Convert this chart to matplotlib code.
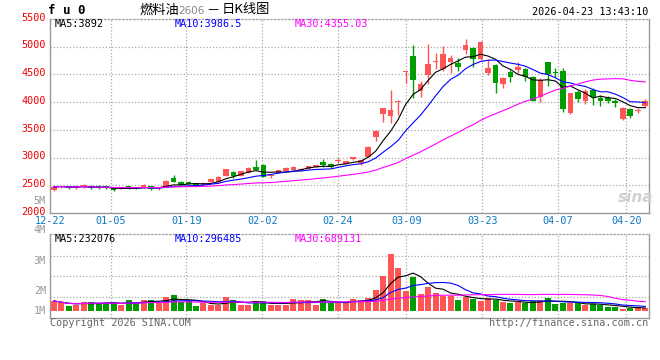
import numpy as np
import pandas as pd
import matplotlib
matplotlib.use("Agg")
import matplotlib.pyplot as plt
from matplotlib.transforms import blended_transform_factory, offset_copy

# fu0 daily K, 12-22 .. 04-23
opens = [2409, 2463, 2487, 2445, 2486, 2493, 2493, 2487, 2469, 2445,
         2487, 2469, 2457, 2487, 2443, 2469, 2625, 2565, 2565, 2535,
         2505, 2559, 2559, 2668, 2746, 2668, 2728, 2836, 2866, 2664,
         2728, 2758, 2776, 2770, 2800, 2836, 2920, 2884, 2935, 2890,
         2968, 2905, 3016, 3365, 3786, 3750, 3995, 4545, 4838, 4207,
         4490, 4725, 4592, 4730, 4712, 4941, 4971, 4772, 4532, 4670,
         4327, 4550, 4580, 4592, 4460, 4099, 4718, 4540, 4562, 3798,
         4189, 4027, 4219, 4069, 4069, 4021, 3690, 3876, 3843, 3930]
closes = [2469, 2487, 2445, 2487, 2491, 2445, 2445, 2445, 2415, 2469,
          2445, 2439, 2505, 2439, 2448, 2577, 2565, 2505, 2523, 2487,
          2547, 2607, 2656, 2794, 2674, 2758, 2818, 2776, 2656, 2672,
          2776, 2806, 2836, 2800, 2848, 2866, 2866, 2824, 2942, 2938,
          3005, 2956, 3196, 3485, 3894, 3858, 4005, 4555, 4393, 4327,
          4687, 4735, 4866, 4790, 4640, 5031, 4772, 5091, 4622, 4351,
          4429, 4460, 4640, 4447, 4027, 4399, 4508, 4525, 3870, 4159,
          4051, 4201, 4099, 4027, 4027, 3979, 3900, 3750, 3850, 4021]
highs = [2475, 2490, 2493, 2493, 2517, 2499, 2499, 2493, 2475, 2475,
         2493, 2475, 2515, 2493, 2469, 2590, 2686, 2571, 2575, 2541,
         2553, 2620, 2662, 2800, 2752, 2764, 2824, 2955, 2885, 2700,
         2782, 2836, 2842, 2806, 2854, 2872, 2974, 2895, 2986, 2945,
         3012, 2965, 3202, 3491, 3900, 4219, 4039, 4567, 5031, 4381,
         5045, 4880, 5009, 4850, 4790, 5133, 5001, 5097, 4772, 4688,
         4460, 4580, 4730, 4610, 4466, 4429, 4730, 4622, 4610, 4170,
         4219, 4231, 4249, 4129, 4111, 4051, 3905, 3888, 3888, 4057]
lows = [2400, 2458, 2440, 2440, 2445, 2440, 2440, 2435, 2405, 2440,
        2430, 2433, 2451, 2415, 2409, 2463, 2555, 2499, 2517, 2481,
        2499, 2553, 2553, 2662, 2640, 2662, 2722, 2770, 2645, 2640,
        2722, 2746, 2770, 2764, 2794, 2830, 2836, 2812, 2896, 2880,
        2960, 2866, 3010, 3305, 3650, 3629, 3768, 4339, 4069, 4087,
        4327, 4592, 4555, 4532, 4568, 4868, 4640, 4760, 4490, 4159,
        4249, 4369, 4532, 4387, 4020, 4009, 4291, 4460, 3828, 3790,
        4009, 3966, 3948, 3930, 3979, 3918, 3685, 3708, 3798, 3906]
# volume, millions
volumes = [0.58, 0.44, 0.31, 0.35, 0.50, 0.52, 0.46, 0.46, 0.44, 0.35,
           0.64, 0.46, 0.64, 0.64, 0.44, 0.81, 0.92, 0.50, 0.58, 0.29,
           0.44, 0.35, 0.35, 0.81, 0.64, 0.35, 0.35, 0.58, 0.58, 0.35,
           0.35, 0.35, 0.69, 0.64, 0.64, 0.35, 0.69, 0.44, 0.44, 0.50,
           0.69, 0.64, 0.77, 1.21, 2.02, 3.29, 2.50, 1.16, 1.98, 0.98,
           1.41, 1.06, 0.87, 0.87, 0.64, 0.83, 0.67, 0.58, 0.73, 0.64,
           0.50, 0.44, 0.50, 0.44, 0.58, 0.64, 0.77, 0.39, 0.44, 0.44,
           0.44, 0.35, 0.39, 0.35, 0.25, 0.25, 0.12, 0.15, 0.21, 0.15]

date_labels = ["12-22", "01-05", "01-19", "02-02", "02-24", "03-09", "03-23", "04-07", "04-20"]
date_index = [0, 8, 18, 28, 38, 47, 57, 67, 76]
price_ticks = [2000, 2500, 3000, 3500, 4000, 4500, 5000, 5500]
vol_grid = [0.8, 2.0, 3.2]
vol_labels = [("4M", 230.5), ("3M", 261), ("2M", 291), ("1M", 311), ("5M", 200.5)]

W, H = 660, 360
RED = "#ff5555"
GREEN = "#009c00"
GRID = "#aaaaaa"
FRAME = "#999999"
MONO = "DejaVu Sans Mono"
CJK = ["Noto Sans CJK SC", "DejaVu Sans"]
DOT = (0, (1, 1.6))

df = pd.DataFrame({"open": opens, "high": highs, "low": lows, "close": closes, "vol": volumes})
n = len(df)
x = np.arange(n)
colors = np.where(df["close"] >= df["open"], RED, GREEN)

fig = plt.figure(figsize=(W / 100, H / 100), dpi=100)
fig.patch.set_facecolor("white")


def px_axes(left, top, right, bottom):
    return fig.add_axes([left / W, 1 - bottom / H, (right - left) / W, (bottom - top) / H])


def ftext(px, py, s, **kw):
    fig.text(px / W, 1 - py / H, s, **kw)


ax = px_axes(50, 19, 649, 213)
axv = px_axes(50, 234, 649, 318)

grid_x = [-0.5 + i * n / (n - 1) for i in date_index]

for a in (ax, axv):
    a.set_xlim(-0.5, n - 0.5)
    a.set_xticks([])
    a.set_yticks([])
    for s in a.spines.values():
        s.set_color(FRAME)
        s.set_linewidth(1)
    a.spines["top"].set_linestyle(DOT)
    a.spines["top"].set_color(GRID)
    for gx in grid_x[1:]:
        a.axvline(gx, color=GRID, ls=DOT, lw=0.9, zorder=0)

# price panel
ax.set_ylim(price_ticks[0], price_ticks[-1])
for p in price_ticks[1:-1]:
    ax.axhline(p, color=GRID, ls=DOT, lw=0.9, zorder=0)

body_lo = df[["open", "close"]].min(axis=1)
body_h = (df["close"] - df["open"]).abs().clip(lower=18)
ax.vlines(x, df["low"], df["high"], colors=colors, lw=1, zorder=2)
ax.bar(x, body_h, bottom=body_lo, width=0.75, color=colors, linewidth=0, zorder=3)

for win, c in [(5, "black"), (10, "blue"), (30, "magenta")]:
    ax.plot(x, df["close"].rolling(win, min_periods=1).mean(), color=c, lw=0.8, zorder=4)

ytr = offset_copy(blended_transform_factory(ax.transAxes, ax.transData), fig, x=-3, y=-1.2, units="points")
for p in price_ticks:
    ax.text(0, p, str(p), transform=ytr, ha="right", va="baseline",
            color="#ee0000", family=MONO, fontsize=7.3, clip_on=False)

xtr = blended_transform_factory(ax.transData, ax.transAxes)
for gx, lab in zip(grid_x, date_labels):
    ax.text(gx, -0.041, lab, transform=xtr, ha="center", va="center",
            color="#0a78c4", family=MONO, fontsize=7.3, clip_on=False)

# volume panel
axv.set_ylim(-0.405, 4.45)
for g in vol_grid:
    axv.axhline(g, color=GRID, ls=DOT, lw=0.9, zorder=0)
axv.bar(x, df["vol"], width=0.8, color=colors, linewidth=0, zorder=2)
for win, c in [(5, "black"), (10, "blue"), (30, "magenta")]:
    axv.plot(x, df["vol"].rolling(win, min_periods=1).mean(), color=c, lw=0.8, zorder=4)

for lab, py in vol_labels:
    ftext(46, py, lab, ha="right", va="center", color="#999999", family=MONO, fontsize=7.3)

# legends
for px, s, c in [(55, "MA5:3892", "black"), (175, "MA10:3986.5", "blue"), (295, "MA30:4355.03", "magenta")]:
    ftext(px, 24, s, color=c, family=MONO, fontsize=7.3, va="center")
for px, s, c in [(55, "MA5:232076", "black"), (175, "MA10:296485", "blue"), (295, "MA30:689131", "magenta")]:
    ftext(px, 238.5, s, color=c, family=MONO, fontsize=7.3, va="center")

# header
ftext(48, 10.5, "f u 0", family=MONO, fontweight="bold", fontsize=9, va="center")
ftext(140, 10, "燃料油", family=CJK, fontsize=9.5, va="center")
ftext(178, 10.5, "2606", family="DejaVu Sans", color="#888888", fontsize=7.5, va="center")
ftext(206, 10, "－", family=CJK, fontsize=9.5, va="center")
ftext(222, 10, "日K线图", family=CJK, fontsize=9.5, va="center")
ftext(648, 12, "2026-04-23 13:43:10", family=MONO, fontsize=7.3, ha="right", va="center")

# footer
ftext(50, 323.5, "Copyright 2026 SINA.COM", family=MONO, color="#666666", fontsize=7.3, va="center")
ftext(648, 323.5, "http://finance.sina.com.cn", family=MONO, color="#666666", fontsize=7.3,
      ha="right", va="center")

ftext(636, 197, "sina", color="#d0d0d0", fontsize=11, fontweight="bold", style="italic",
      ha="center", va="center")

fig.savefig("out.png", dpi=100, facecolor="white")
